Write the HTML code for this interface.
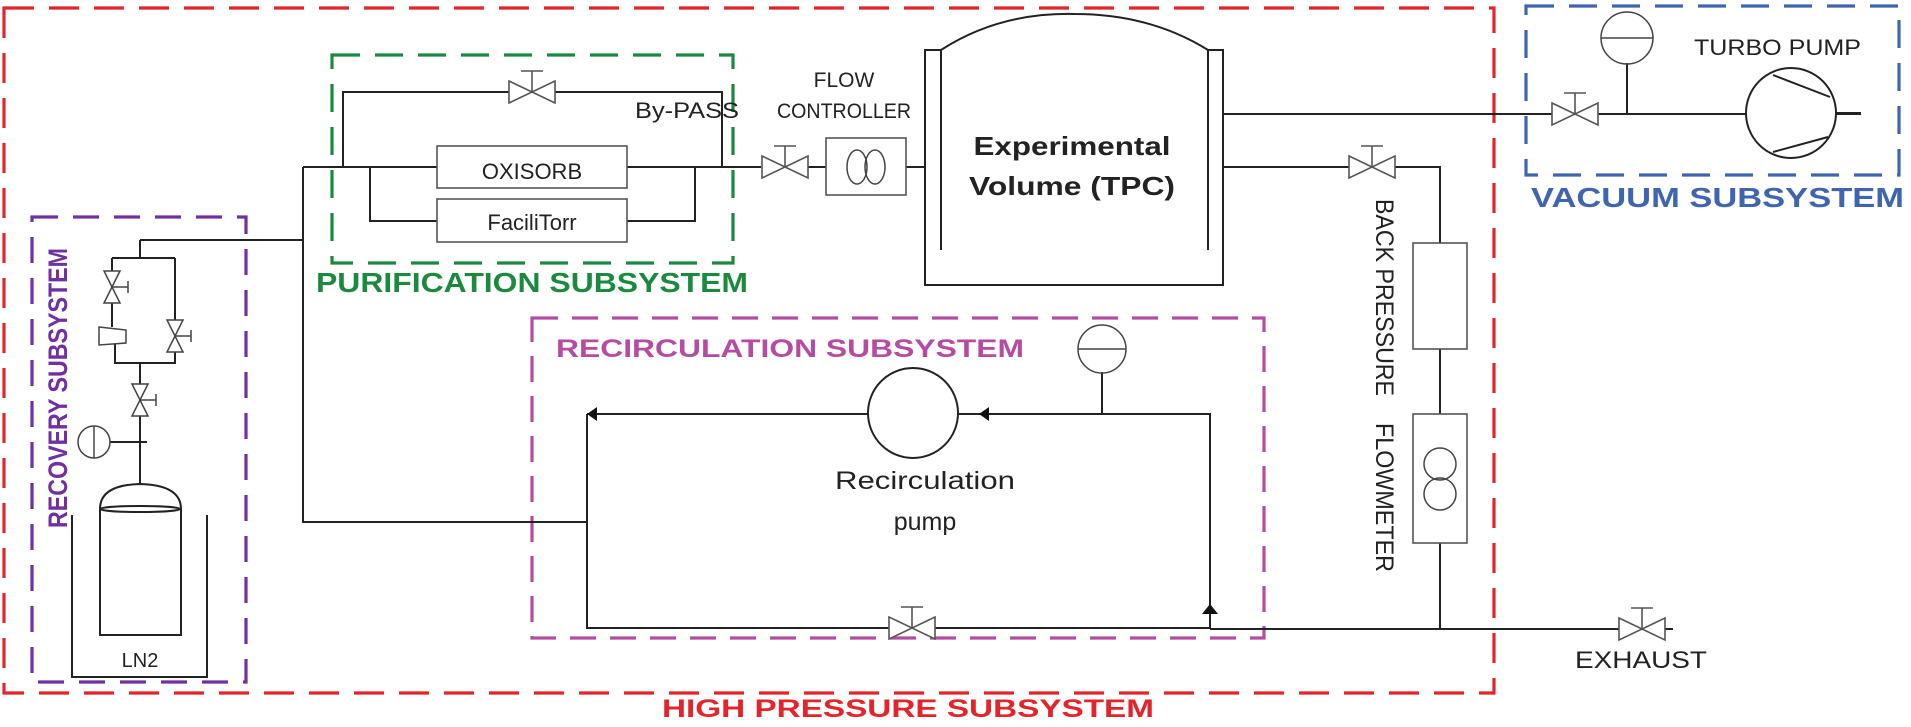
<!DOCTYPE html>
<html><head><meta charset="utf-8"><style>
html,body{margin:0;padding:0;background:#fff;}
svg{display:block;}
text{font-family:"Liberation Sans",Arial,sans-serif;}
</style></head><body>
<svg width="1911" height="727" viewBox="0 0 1911 727" xmlns="http://www.w3.org/2000/svg">
<defs>
<g id="v"><path d="M-23,-11 L23,11 L23,-11 L-23,11 Z" fill="#fff" stroke="#555" stroke-width="1.6"/><path d="M0,0 V-21 M-11,-21 H11" stroke="#555" stroke-width="1.6" fill="none"/></g>
<g id="vs"><path d="M-16,-8 L16,8 L16,-8 L-16,8 Z" fill="#fff" stroke="#444" stroke-width="1.5"/><path d="M0,0 V-16 M-6,-16 H6" stroke="#444" stroke-width="1.5" fill="none"/></g>
</defs>

<!-- subsystem boxes -->
<g fill="none" stroke-width="3.2">
<rect x="4" y="8" width="1490" height="685" stroke="#e3242b" stroke-dasharray="30,15"/>
<rect x="1526" y="6" width="373" height="169" stroke="#4065b0" stroke-dasharray="28,15"/>
<rect x="332" y="55" width="401" height="208" stroke="#1b8a3e" stroke-dasharray="28,15"/>
<rect x="32" y="217" width="214" height="465" stroke="#7030a0" stroke-dasharray="26,15"/>
<rect x="532" y="318" width="732" height="320" stroke="#b44ca2" stroke-dasharray="26,14"/>
</g>

<!-- labels -->
<g font-weight="bold">
<text x="662" y="717" font-size="25" fill="#e3242b" textLength="492" lengthAdjust="spacingAndGlyphs">HIGH PRESSURE SUBSYSTEM</text>
<text x="1531" y="207" font-size="28" fill="#4065b0" textLength="373" lengthAdjust="spacingAndGlyphs">VACUUM SUBSYSTEM</text>
<text x="316" y="292" font-size="28" fill="#1b8a3e" textLength="432" lengthAdjust="spacingAndGlyphs">PURIFICATION SUBSYSTEM</text>
<text x="556" y="357" font-size="25" fill="#b44ca2" textLength="468" lengthAdjust="spacingAndGlyphs">RECIRCULATION SUBSYSTEM</text>
<text transform="translate(67,528) rotate(-90)" font-size="27" fill="#7030a0" textLength="280" lengthAdjust="spacingAndGlyphs">RECOVERY SUBSYSTEM</text>
</g>

<!-- piping -->
<g fill="none" stroke="#222" stroke-width="2">
<path d="M140,240 H303 M303,167 V522 H587"/>
<path d="M303,167 H437 M627,167 H761 M808,167 H826 M906,167 H925"/>
<path d="M343,167 V92 H722 V167"/>
<path d="M370,167 V221 H437 M627,221 H695 V167"/>
<!-- TPC -->
<path d="M941,50 H925 V285 H1223 V50 H1208"/>
<path d="M941,50 V250 M1208,50 V250"/>
<path d="M941,50 Q1000,12 1075,14 Q1150,14 1208,50"/>
<!-- vacuum -->
<path d="M1223,114 H1861"/>
<path d="M1627,63 V114"/>
<!-- back pressure -->
<path d="M1223,167 H1440 V243 M1440,349 V414 M1440,543 V629"/>
<!-- recirculation -->
<path d="M587,414 H868 M958,414 H1210 V629 M587,414 V628 H1210 M1210,629 H1673"/>
<path d="M1102,372 V414"/>
<!-- recovery -->
<path d="M140,240 V258 M112,258 H175 M112,258 V327 M115,344 V363 H175 V258 M140,363 V485 M110,442 H147"/>
</g>

<!-- arrows -->
<g fill="#111">
<path d="M587,414 L597,407 L597,421 Z"/>
<path d="M979,414 L989,407 L989,421 Z"/>
<path d="M1210,604 L1202,614 L1218,614 Z"/>
</g>

<!-- boxes -->
<g fill="#fff" stroke="#555" stroke-width="1.6">
<rect x="437" y="146" width="190" height="42"/>
<rect x="437" y="199" width="190" height="43"/>
<rect x="826" y="138" width="80" height="57"/>
<rect x="1413" y="243" width="54" height="106"/>
<rect x="1413" y="414" width="54" height="129"/>
</g>
<g fill="none" stroke="#444" stroke-width="1.5">
<ellipse cx="857" cy="167" rx="10" ry="17"/>
<ellipse cx="875" cy="167" rx="10" ry="17"/>
<circle cx="1440" cy="464" r="16"/>
<circle cx="1440" cy="494" r="16"/>
<circle cx="1627" cy="38" r="26"/><path d="M1601,38 H1653"/>
<circle cx="1102" cy="349" r="24"/><path d="M1078,349 H1126"/>
<circle cx="94" cy="442" r="16"/><path d="M94,426 V458"/>
</g>
<!-- pumps -->
<g fill="#fff" stroke="#222" stroke-width="2">
<circle cx="913" cy="413" r="45"/>
<circle cx="1791" cy="113" r="45"/>
</g>
<path d="M1773,75 L1830,97 M1773,152 L1828,137 M1836,113 H1861" stroke="#222" stroke-width="2" fill="none"/>

<!-- valves -->
<use href="#v" x="532" y="92"/>
<use href="#v" x="785" y="167"/>
<use href="#v" x="1575" y="114"/>
<use href="#v" x="1372" y="167"/>
<use href="#v" x="912" y="628"/>
<use href="#v" x="1642" y="629"/>
<use href="#vs" transform="translate(112,287) rotate(90)"/>
<use href="#vs" transform="translate(175,336) rotate(90)"/>
<use href="#vs" transform="translate(140,400) rotate(90)"/>
<path d="M99,327 L126,330 L126,343 L99,345 Z" fill="#fff" stroke="#444" stroke-width="1.5"/>

<!-- tank -->
<g fill="none" stroke="#222" stroke-width="2">
<path d="M100,509 Q100,485 140,484 Q181,485 181,509"/>
<ellipse cx="140" cy="509" rx="40" ry="3"/>
<path d="M100,509 V635 H181 V509"/>
<path d="M72,515 V677 H207 V515"/>
</g>

<!-- text -->
<g fill="#222">
<text x="635" y="118" font-size="22" textLength="104" lengthAdjust="spacingAndGlyphs">By-PASS</text>
<text x="532" y="179" font-size="22" text-anchor="middle">OXISORB</text>
<text x="532" y="230" font-size="22" text-anchor="middle">FaciliTorr</text>
<text x="844" y="87" font-size="21" text-anchor="middle">FLOW</text>
<text x="777" y="118" font-size="21" textLength="134" lengthAdjust="spacingAndGlyphs">CONTROLLER</text>
<text x="1072" y="155" font-size="26" font-weight="bold" text-anchor="middle" textLength="197" lengthAdjust="spacingAndGlyphs">Experimental</text>
<text x="1072" y="195" font-size="26" font-weight="bold" text-anchor="middle" textLength="206" lengthAdjust="spacingAndGlyphs">Volume (TPC)</text>
<text x="1694" y="55" font-size="22" textLength="167" lengthAdjust="spacingAndGlyphs">TURBO PUMP</text>
<text x="925" y="489" font-size="25" text-anchor="middle" textLength="180" lengthAdjust="spacingAndGlyphs">Recirculation</text>
<text x="925" y="530" font-size="25" text-anchor="middle">pump</text>
<text x="140" y="667" font-size="20" text-anchor="middle">LN2</text>
<text x="1575" y="668" font-size="24" textLength="132" lengthAdjust="spacingAndGlyphs">EXHAUST</text>
<text transform="translate(1376,199) rotate(90)" font-size="25" textLength="197" lengthAdjust="spacingAndGlyphs">BACK PRESSURE</text>
<text transform="translate(1376,423) rotate(90)" font-size="25" textLength="149" lengthAdjust="spacingAndGlyphs">FLOWMETER</text>
</g>
</svg>
</body></html>
